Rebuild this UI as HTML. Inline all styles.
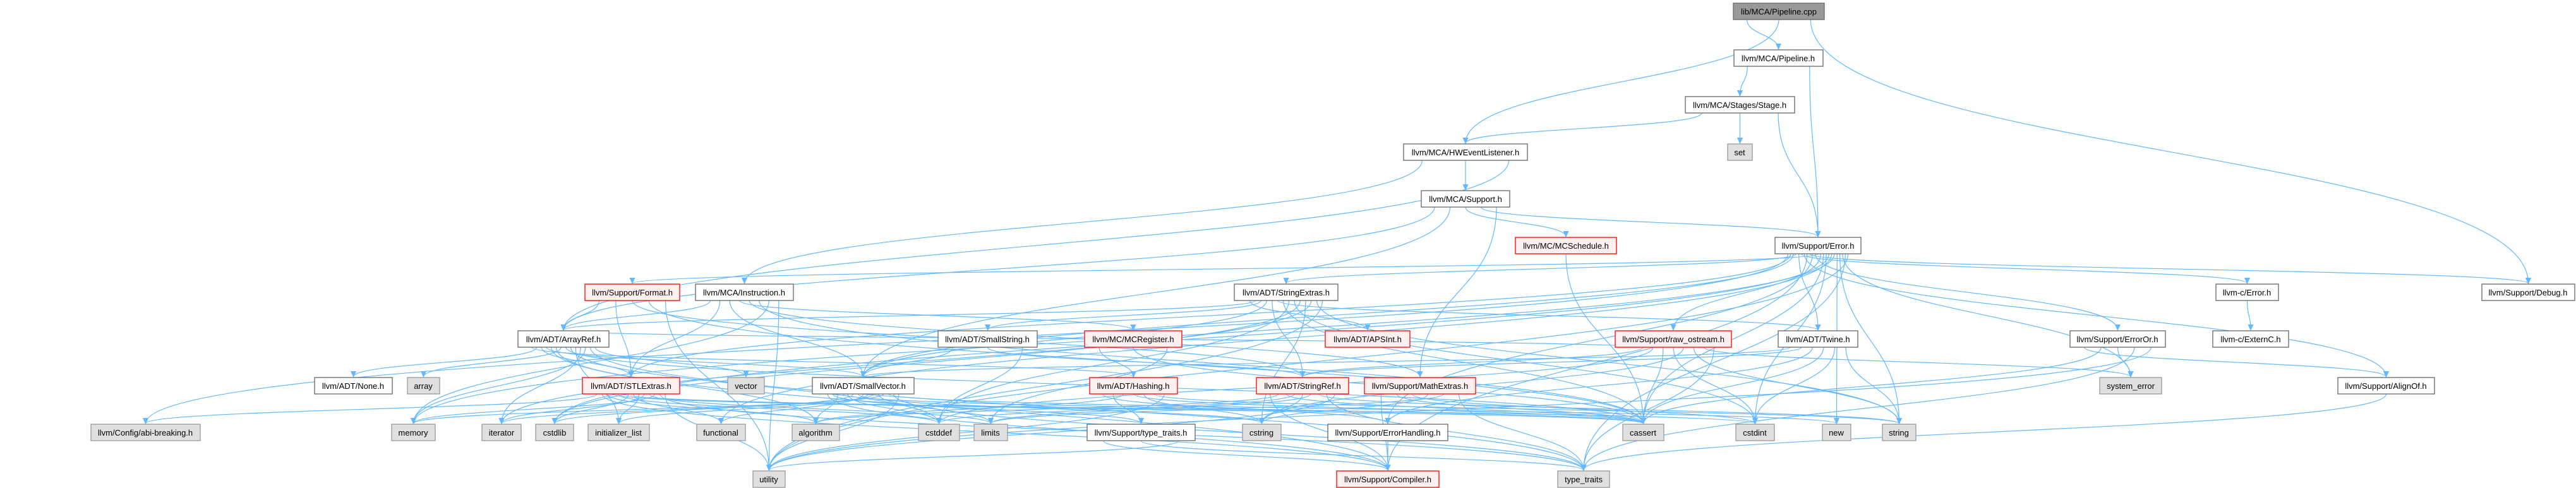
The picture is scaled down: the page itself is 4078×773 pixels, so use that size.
<!DOCTYPE html>
<html><head><meta charset="utf-8"><style>
html,body{margin:0;padding:0;background:#fff;width:4078px;height:773px;overflow:hidden}
svg{position:absolute;left:0;top:0}
text{font-family:"Liberation Sans",Arial,sans-serif;font-size:13px;text-anchor:middle;fill:#000}
.w{fill:#fff;stroke:#666;stroke-width:1.3}
.g{fill:#e0e0e0;stroke:#999;stroke-width:1.3}
.r{fill:#fff0f0;stroke:#f00;stroke-width:1.3}
.k{fill:#999;stroke:#666;stroke-width:1.3}
</style></head><body>
<svg id="s" width="4078" height="773" viewBox="0 0 4078 773" xmlns="http://www.w3.org/2000/svg">
<defs><marker id="a" markerWidth="10" markerHeight="10" refX="9" refY="5" orient="auto" markerUnits="userSpaceOnUse"><path d="M0,0.5 L10,5 L0,9.5 z" fill="#63b8ff"/></marker></defs>
<g id="edges" fill="none" stroke="#63b8ff" stroke-width="1.2"></g>
<g id="nodes">
<rect class="k" x="2744" y="5" width="144" height="26"/><text x="2816" y="23">lib/MCA/Pipeline.cpp</text>
<rect class="w" x="2745" y="79" width="141" height="26"/><text x="2815" y="97">llvm/MCA/Pipeline.h</text>
<rect class="w" x="2668" y="153" width="173" height="26"/><text x="2754" y="171">llvm/MCA/Stages/Stage.h</text>
<rect class="w" x="2222" y="228" width="196" height="26"/><text x="2320" y="246">llvm/MCA/HWEventListener.h</text>
<rect class="g" x="2735" y="228" width="39" height="26"/><text x="2754" y="246">set</text>
<rect class="w" x="2250" y="302" width="140" height="26"/><text x="2320" y="320">llvm/MCA/Support.h</text>
<rect class="r" x="2399" y="376" width="160" height="26"/><text x="2479" y="394">llvm/MC/MCSchedule.h</text>
<rect class="w" x="2810" y="376" width="136" height="26"/><text x="2878" y="394">llvm/Support/Error.h</text>
<rect class="r" x="926" y="450" width="150" height="26"/><text x="1001" y="468">llvm/Support/Format.h</text>
<rect class="w" x="1101" y="450" width="155" height="26"/><text x="1178" y="468">llvm/MCA/Instruction.h</text>
<rect class="w" x="1954" y="450" width="164" height="26"/><text x="2036" y="468">llvm/ADT/StringExtras.h</text>
<rect class="w" x="3508" y="450" width="99" height="26"/><text x="3557" y="468">llvm-c/Error.h</text>
<rect class="w" x="3929" y="450" width="147" height="26"/><text x="4002" y="468">llvm/Support/Debug.h</text>
<rect class="w" x="820" y="524" width="144" height="26"/><text x="892" y="542">llvm/ADT/ArrayRef.h</text>
<rect class="w" x="1485" y="524" width="157" height="26"/><text x="1563" y="542">llvm/ADT/SmallString.h</text>
<rect class="r" x="1717" y="524" width="154" height="26"/><text x="1794" y="542">llvm/MC/MCRegister.h</text>
<rect class="r" x="2098" y="524" width="134" height="26"/><text x="2165" y="542">llvm/ADT/APSInt.h</text>
<rect class="r" x="2557" y="524" width="184" height="26"/><text x="2649" y="542">llvm/Support/raw_ostream.h</text>
<rect class="w" x="2815" y="524" width="126" height="26"/><text x="2878" y="542">llvm/ADT/Twine.h</text>
<rect class="w" x="3277" y="524" width="151" height="26"/><text x="3352" y="542">llvm/Support/ErrorOr.h</text>
<rect class="w" x="3503" y="524" width="120" height="26"/><text x="3563" y="542">llvm-c/ExternC.h</text>
<rect class="w" x="498" y="598" width="123" height="26"/><text x="559" y="616">llvm/ADT/None.h</text>
<rect class="g" x="645" y="598" width="51" height="26"/><text x="670" y="616">array</text>
<rect class="r" x="922" y="598" width="154" height="26"/><text x="999" y="616">llvm/ADT/STLExtras.h</text>
<rect class="g" x="1152" y="598" width="58" height="26"/><text x="1181" y="616">vector</text>
<rect class="w" x="1286" y="598" width="161" height="26"/><text x="1366" y="616">llvm/ADT/SmallVector.h</text>
<rect class="r" x="1725" y="598" width="139" height="26"/><text x="1794" y="616">llvm/ADT/Hashing.h</text>
<rect class="r" x="1989" y="598" width="146" height="26"/><text x="2062" y="616">llvm/ADT/StringRef.h</text>
<rect class="r" x="2160" y="598" width="176" height="26"/><text x="2248" y="616">llvm/Support/MathExtras.h</text>
<rect class="g" x="3324" y="598" width="98" height="26"/><text x="3373" y="616">system_error</text>
<rect class="w" x="3701" y="598" width="153" height="26"/><text x="3777" y="616">llvm/Support/AlignOf.h</text>
<rect class="g" x="144" y="672" width="173" height="26"/><text x="230" y="690">llvm/Config/abi-breaking.h</text>
<rect class="g" x="620" y="672" width="69" height="26"/><text x="654" y="690">memory</text>
<rect class="g" x="763" y="672" width="62" height="26"/><text x="794" y="690">iterator</text>
<rect class="g" x="848" y="672" width="60" height="26"/><text x="878" y="690">cstdlib</text>
<rect class="g" x="931" y="672" width="97" height="26"/><text x="979" y="690">initializer_list</text>
<rect class="g" x="1103" y="672" width="77" height="26"/><text x="1141" y="690">functional</text>
<rect class="g" x="1254" y="672" width="75" height="26"/><text x="1291" y="690">algorithm</text>
<rect class="g" x="1454" y="672" width="65" height="26"/><text x="1486" y="690">cstddef</text>
<rect class="g" x="1542" y="672" width="53" height="26"/><text x="1568" y="690">limits</text>
<rect class="w" x="1721" y="672" width="171" height="26"/><text x="1806" y="690">llvm/Support/type_traits.h</text>
<rect class="g" x="1967" y="672" width="61" height="26"/><text x="1997" y="690">cstring</text>
<rect class="w" x="2102" y="672" width="190" height="26"/><text x="2197" y="690">llvm/Support/ErrorHandling.h</text>
<rect class="g" x="2569" y="672" width="65" height="26"/><text x="2601" y="690">cassert</text>
<rect class="g" x="2748" y="672" width="61" height="26"/><text x="2778" y="690">cstdint</text>
<rect class="g" x="2885" y="672" width="45" height="26"/><text x="2907" y="690">new</text>
<rect class="g" x="2980" y="672" width="53" height="26"/><text x="3006" y="690">string</text>
<rect class="g" x="1192" y="746" width="51" height="26"/><text x="1217" y="764">utility</text>
<rect class="r" x="2116" y="746" width="162" height="26"/><text x="2197" y="764">llvm/Support/Compiler.h</text>
<rect class="g" x="2466" y="746" width="82" height="26"/><text x="2507" y="764">type_traits</text>
</g>
</svg>
<script>
var N={cpp:[2744,5,144],pip:[2745,79,141],stage:[2668,153,173],hw:[2222,228,196],set:[2735,228,39],sup:[2250,302,140],sched:[2399,376,160],err:[2810,376,136],fmt:[926,450,150],ins:[1101,450,155],sx:[1954,450,164],cerr:[3508,450,99],dbg:[3929,450,147],ar:[820,524,144],ss:[1485,524,157],mcr:[1717,524,154],aps:[2098,524,134],ro:[2557,524,184],tw:[2815,524,126],eo:[3277,524,151],ext:[3503,524,120],none:[498,598,123],arr:[645,598,51],stl:[922,598,154],vec:[1152,598,58],sv:[1286,598,161],hash:[1725,598,139],sr:[1989,598,146],math:[2160,598,176],se:[3324,598,98],al:[3701,598,153],abi:[144,672,173],mem:[620,672,69],it:[763,672,62],cstdlib:[848,672,60],il:[931,672,97],fn:[1103,672,77],alg:[1254,672,75],cstddef:[1454,672,65],lim:[1542,672,53],tt:[1721,672,171],cstring:[1967,672,61],eh:[2102,672,190],ca:[2569,672,65],ci:[2748,672,61],nw:[2885,672,45],str:[2980,672,53],ut:[1192,746,51],comp:[2116,746,162],typ:[2466,746,82]};
var E={cpp:"pip hw dbg",pip:"stage err",stage:"hw set err",hw:"ins sup ar",sup:"ar sv sched err math",sched:"ca",
err:"abi stl sv sx tw cerr al comp dbg eh eo fmt ro ca ci cstdlib fn mem nw str se typ ut",
fmt:"ar stl sr ca ut",ins:"ar stl sv mcr math ca mem ut",
sx:"aps ar ss sv sr tw ca cstddef ci cstdlib cstring it str ut",
ro:"ar sr cstddef ca ci cstring str se typ",tw:"sv sr eh ca ci str",cerr:"ext",eo:"al ca se typ ut",
ss:"sv sr cstddef",mcr:"hash ca lim",ar:"hash none stl sv comp alg arr ca cstddef il it mem typ vec",
stl:"abi comp alg ca cstddef ci cstdlib fn il it lim mem typ ut",
sv:"comp tt alg ca cstddef cstdlib cstring fn il it lim mem nw typ ut",
hash:"eh tt alg ca cstring str ut",sr:"comp alg ca cstddef cstring lim str typ ut",
math:"comp ca ci cstring lim typ",al:"typ",tt:"comp typ ut",eh:"comp"};
var g=document.getElementById("edges"),h="";
for(var s in E){var a=N[s];E[s].split(" ").forEach(function(t,i,arr){var b=N[t];if(!b)return;
var n=arr.length,sx=a[0]+a[2]*(0.15+0.7*(n>1?i/(n-1):0.5)),sy=a[1]+26,tx=b[0]+b[2]/2,ty=b[1];
var dy=ty-sy;var c1=sy+dy*0.5,c2=ty-dy*0.5;
h+='<path d="M'+sx.toFixed(1)+','+sy+' C'+sx.toFixed(1)+','+c1+' '+tx+','+c2+' '+tx+','+(ty-1)+'" marker-end="url(#a)"/>';});}
g.innerHTML=h;
</script>
</body></html>
